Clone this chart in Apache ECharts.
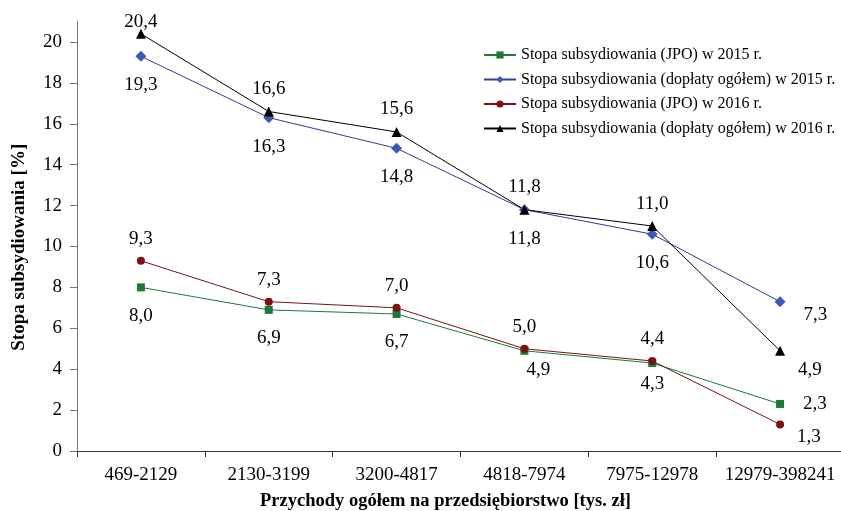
<!DOCTYPE html>
<html><head><meta charset="utf-8">
<script src="https://cdn.jsdelivr.net/npm/echarts@6/dist/echarts.min.js"></script>
<style>html,body{margin:0;padding:0;background:#fff}#c{width:841px;height:511px}</style>
</head><body><div id="c"></div>
<script>
var categories = ['469-2129','2130-3199','3200-4817','4818-7974','7975-12978','12979-398241'];
var seriesNames = [
  'Stopa subsydiowania (JPO) w 2015 r.',
  'Stopa subsydiowania (dopłaty ogółem) w 2015 r.',
  'Stopa subsydiowania (JPO) w 2016 r.',
  'Stopa subsydiowania (dopłaty ogółem) w 2016 r.'
];
var jpo2015 = [8.0, 6.9, 6.7, 4.9, 4.3, 2.3];
var ogolem2015 = [19.3, 16.3, 14.8, 11.8, 10.6, 7.3];
var jpo2016 = [9.3, 7.3, 7.0, 5.0, 4.4, 1.3];
var ogolem2016 = [20.4, 16.6, 15.6, 11.8, 11.0, 4.9];
var yTicks = [0, 2, 4, 6, 8, 10, 12, 14, 16, 18, 20];

var FONT = 'Liberation Serif';
function fmt(p){ return p.value.toFixed(1).replace('.', ','); }

function build(values, overrides){
  return values.map(function(v, i){
    var o = {value: v};
    if (overrides[i]) o.label = overrides[i];
    return o;
  });
}
function lbl(pos, dist){
  return {show:true, position:pos, distance:dist, formatter:fmt,
          fontFamily:FONT, fontSize:19, color:'#000'};
}

var chart = echarts.init(document.getElementById('c'), null, {renderer:'canvas'});
chart.setOption({
  animation:false,
  backgroundColor:'#fff',
  textStyle:{fontFamily:FONT},
  grid:{left:77, right:-3, top:21.5, bottom:60, containLabel:false, outerBoundsMode:'none'},
  legend:{
    orient:'vertical', left:483, top:47, padding:0, itemWidth:32, itemHeight:9, itemGap:8.5,
    textStyle:{fontFamily:FONT, fontSize:16, color:'#000'},
    data:seriesNames
  },
  xAxis:{
    type:'category', data:categories, boundaryGap:true,
    axisLine:{lineStyle:{color:'#333', width:1}},
    axisTick:{show:true, inside:false, length:6, lineStyle:{color:'#333'}},
    axisLabel:{fontFamily:FONT, fontSize:19, color:'#000', margin:15, interval:0, hideOverlap:false},
    name:'Przychody ogółem na przedsiębiorstwo [tys. zł]',
    nameLocation:'middle', nameGap:41,
    nameTextStyle:{fontFamily:FONT, fontSize:18.5, fontWeight:'bold', color:'#000', padding:[0,30,0,0]}
  },
  yAxis:{
    type:'value', min:0, max:21, interval:2,
    splitLine:{show:false},
    axisLine:{show:true, lineStyle:{color:'#777', width:1}},
    axisTick:{show:true, length:7, lineStyle:{color:'#777'}, customValues:yTicks},
    axisLabel:{fontFamily:FONT, fontSize:19, color:'#000', margin:15, customValues:yTicks},
    name:'Stopa subsydiowania [%]',
    nameLocation:'middle', nameGap:48, nameRotate:90,
    nameTextStyle:{fontFamily:FONT, fontSize:19, fontWeight:'bold', color:'#000', padding:[0,22,0,0]}
  },
  series:[
    {name:seriesNames[0], type:'line', data:build(jpo2015, {
        3:{offset:[14,-9]},
        4:{offset:[0,-8]},
        5:{position:'right', distance:19, offset:[0,0]}}),
     symbol:'rect', symbolSize:8, itemStyle:{color:'#1a7a3a'},
     lineStyle:{color:'#1a7a3a', width:1}, label:lbl('bottom', 15)},
    {name:seriesNames[1], type:'line', data:build(ogolem2015, {
        5:{position:'right', distance:18, offset:[0,13]}}),
     symbol:'diamond', symbolSize:11, itemStyle:{color:'#3a5ab5'},
     lineStyle:{color:'#2e3d95', width:1}, label:lbl('bottom', 14)},
    {name:seriesNames[2], type:'line', data:build(jpo2016, {
        5:{position:'right', distance:13, offset:[0,13]}}),
     symbol:'circle', symbolSize:8, itemStyle:{color:'#7b1113'},
     lineStyle:{color:'#7b1113', width:1}, label:lbl('top', 8)},
    {name:seriesNames[3], type:'line', data:build(ogolem2016, {
        0:{offset:[0,11]},
        5:{position:'right', distance:13, offset:[0,19]}}),
     symbol:'triangle', symbolSize:10, itemStyle:{color:'#000'},
     lineStyle:{color:'#000', width:1}, label:lbl('top', 8)}
  ]
});
</script></body></html>
